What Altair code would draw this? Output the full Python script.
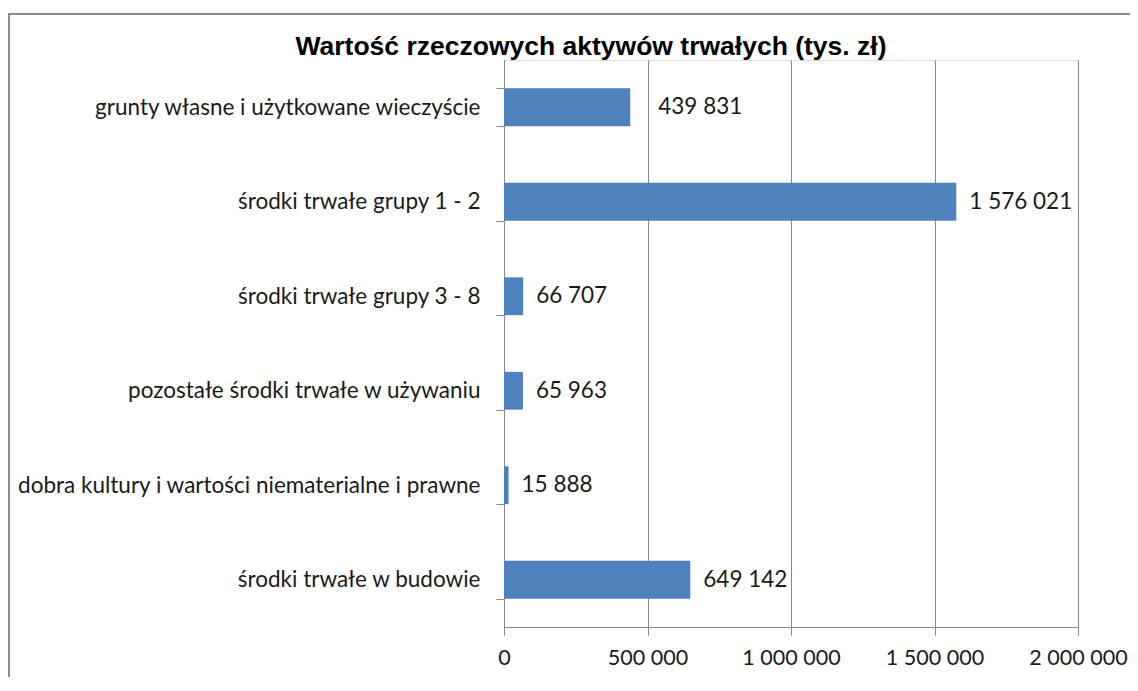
import altair as alt
import pandas as pd

categories = [
    "grunty własne i użytkowane wieczyście",
    "środki trwałe grupy 1 - 2",
    "środki trwałe grupy 3 - 8",
    "pozostałe środki trwałe w używaniu",
    "dobra kultury i wartości niematerialne i prawne",
    "środki trwałe w budowie",
]
values = [439831, 1576021, 66707, 65963, 15888, 649142]
x_ticks = [0, 500000, 1000000, 1500000, 2000000]

df = pd.DataFrame({"cat": categories, "val": values})
df["lbl"] = [f"{v:,}".replace(",", " ") for v in values]

FONT = "Lato"
FS = 22.5
GRID = "#878787"
TXT = "#1a1a1a"

x_enc = alt.X(
    "val:Q",
    scale=alt.Scale(domain=[0, 2000000], nice=False),
    axis=alt.Axis(
        values=x_ticks,
        title=None,
        grid=True,
        gridColor=GRID,
        domainColor=GRID,
        tickColor=GRID,
        tickSize=8,
        labelPadding=12,
        labelOverlap=False,
        labelFlush=False,
        labelFont=FONT,
        labelFontSize=21.5,
        labelColor=TXT,
        labelExpr="replace(format(datum.value, ','), regexp(',', 'g'), ' ')",
    ),
)
y_enc = alt.Y(
    "cat:N",
    sort=categories,
    scale=alt.Scale(paddingInner=0.6, paddingOuter=0.3),
    axis=alt.Axis(
        title=None,
        tickBand="extent",
        grid=False,
        domainColor=GRID,
        tickColor=GRID,
        tickSize=8,
        labelPadding=16,
        labelFont=FONT,
        labelFontSize=FS,
        labelColor=TXT,
        labelLimit=600,
    ),
)

bars = alt.Chart(df).mark_bar(color="#4F81BD").encode(x=x_enc, y=y_enc)
text_base = alt.Chart(df).encode(
    x="val:Q", y=alt.Y("cat:N", sort=categories), text="lbl:N"
)
texts_first = text_base.transform_filter(
    alt.datum.cat == categories[0]
).mark_text(align="left", dx=28, font=FONT, fontSize=FS, color=TXT)
texts_rest = text_base.transform_filter(
    alt.datum.cat != categories[0]
).mark_text(align="left", dx=13, font=FONT, fontSize=FS, color=TXT)

border = alt.Chart(pd.DataFrame({"a": [0]})).mark_rect(
    fill=None, stroke="#8a8a8a", strokeWidth=2
).encode(
    x=alt.value(-495), x2=alt.value(700), y=alt.value(-46), y2=alt.value(700)
)

chart = (
    alt.layer(border, bars, texts_first, texts_rest)
    .properties(
        width=574,
        height=567,
        autosize=alt.AutoSizeParams(type="none"),
        padding={"left": 496, "top": 52, "right": 52, "bottom": 50},
        title=alt.TitleParams(
            "Wartość rzeczowych aktywów trwałych (tys. zł)",
            font="Liberation Sans",
            fontSize=26.5,
            fontWeight="bold",
            color="#000000",
            anchor="middle",
            frame="group",
            dx=-200,
            dy=53,
            offset=6,
        ),
    )
    .configure_view(stroke=None)
    .configure(background="white")
)

chart.save("out.html", embed_options={"renderer": "svg", "actions": False})
